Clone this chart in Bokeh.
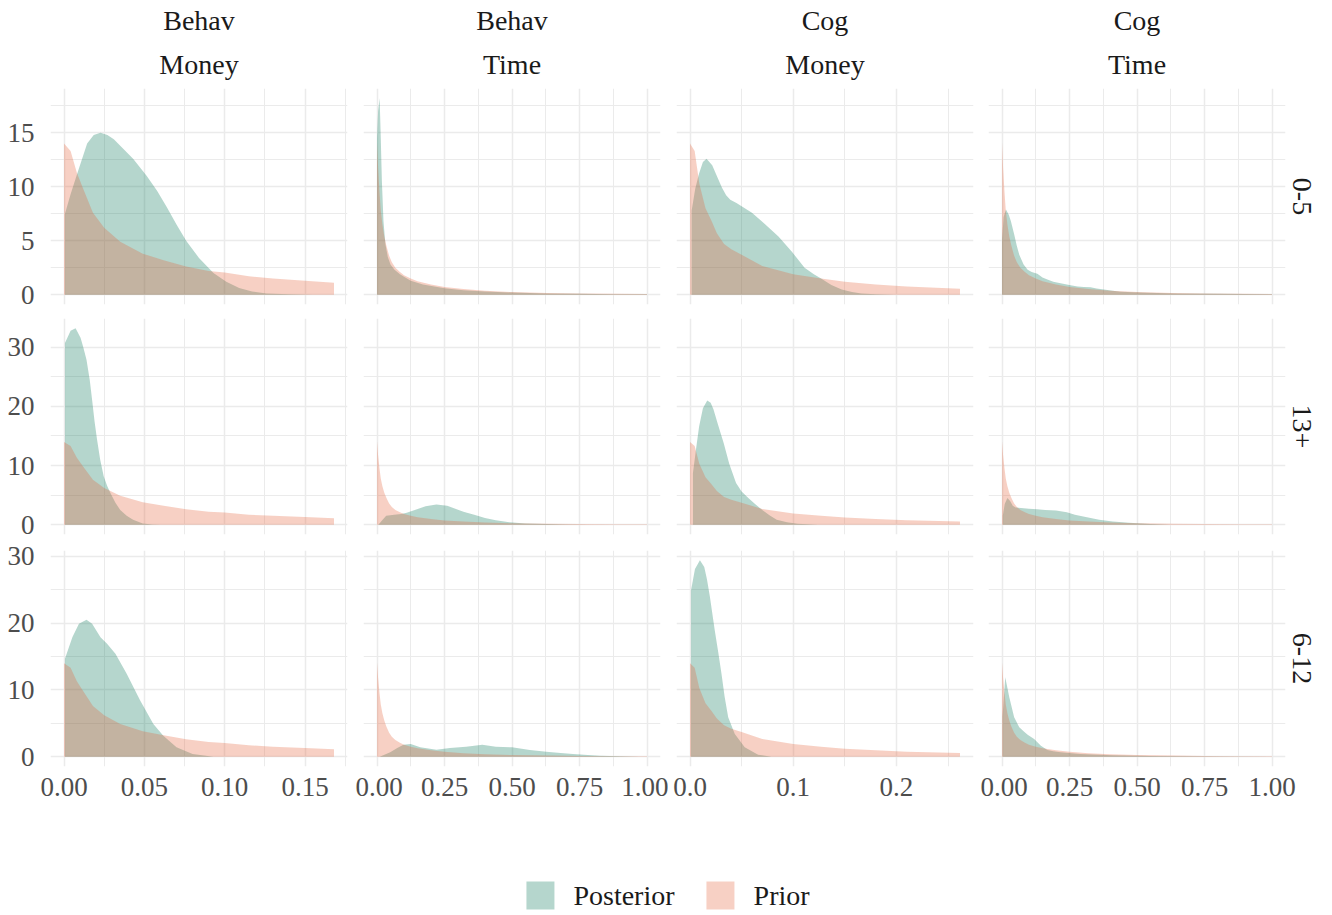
from bokeh.plotting import figure
from bokeh.layouts import gridplot, column
from bokeh.models import FixedTicker, Title, Legend, LegendItem
from bokeh.embed import file_html
from bokeh.resources import INLINE

# ---------------- data ----------------
col_top = ["Behav", "Behav", "Cog", "Cog"]
col_bottom = ["Money", "Time", "Money", "Time"]
row_labels = ["0-5", "13+", "6-12"]
series_labels = ["Posterior", "Prior"]

# priors (shared across age groups)
prior_bm_x = [0, 0.0041, 0.008, 0.012, 0.018, 0.025, 0.035, 0.049, 0.062, 0.076, 0.09, 0.1, 0.115, 0.13, 0.15, 0.168]
prior_bm_y = [14.0, 13.3, 11.3, 9.8, 7.6, 6.2, 4.9, 3.8, 3.2, 2.6, 2.2, 2.05, 1.7, 1.5, 1.3, 1.1]

prior_cm_x = [0, 0.0045, 0.009, 0.015, 0.021, 0.026, 0.033, 0.04, 0.05, 0.07, 0.1, 0.127, 0.15, 0.18, 0.21, 0.2616]
prior_cm_y = [14.0, 13.3, 10.3, 8.0, 6.8, 5.7, 4.7, 4.2, 3.7, 2.65, 1.9, 1.5, 1.2, 0.95, 0.75, 0.55]

prior_t_x = [0, 0.004, 0.009, 0.014, 0.02, 0.027, 0.035, 0.045, 0.055, 0.068, 0.085, 0.1, 0.125, 0.15,
             0.2, 0.25, 0.32, 0.4, 0.5, 0.63, 0.75, 0.88, 1.0]
prior_t_y = [14.1, 11.8, 9.6, 7.8, 6.5, 5.4, 4.5, 3.6, 3.0, 2.5, 2.1, 1.8, 1.5, 1.25,
             0.95, 0.72, 0.52, 0.36, 0.24, 0.16, 0.11, 0.08, 0.06]

# posteriors: age 0-5
post_bm_05_x = [0.0006, 0.0041, 0.0082, 0.0144, 0.0185, 0.0227, 0.027, 0.031, 0.037, 0.043, 0.0515, 0.058,
                0.064, 0.07, 0.076, 0.084, 0.093, 0.101, 0.109, 0.117, 0.126, 0.14, 0.155]
post_bm_05_y = [7.5, 9.3, 11.2, 14.0, 14.8, 15.0, 14.8, 14.4, 13.5, 12.6, 11.0, 9.6,
                8.1, 6.5, 5.0, 3.4, 2.0, 1.2, 0.62, 0.3, 0.1, 0.03, 0.0]
post_bt_05_x = [0, 0.004, 0.0098, 0.014, 0.018, 0.024, 0.031, 0.04, 0.05, 0.065, 0.085, 0.1, 0.125, 0.17,
                0.25, 0.32, 0.4, 0.5, 0.63, 0.75, 0.88, 1.0]
post_bt_05_y = [14.5, 17.0, 18.2, 14.5, 10.6, 6.8, 4.7, 3.5, 2.8, 2.3, 1.9, 1.65, 1.3, 0.95,
                0.6, 0.42, 0.3, 0.2, 0.12, 0.08, 0.05, 0.03]
post_cm_05_x = [0.0016, 0.005, 0.0087, 0.0125, 0.016, 0.0215, 0.026, 0.031, 0.035, 0.039, 0.045, 0.05, 0.06,
                0.073, 0.0857, 0.0985, 0.111, 0.12, 0.127, 0.137, 0.147, 0.157, 0.166, 0.18, 0.198]
post_cm_05_y = [7.8, 9.8, 11.2, 12.3, 12.6, 12.0, 11.0, 9.9, 9.2, 8.8, 8.5, 8.2, 7.6,
                6.5, 5.4, 4.0, 2.5, 1.9, 1.5, 0.9, 0.47, 0.25, 0.12, 0.04, 0.0]
post_ct_05_x = [0, 0.006, 0.0147, 0.025, 0.033, 0.045, 0.055, 0.064, 0.08, 0.095, 0.11, 0.131, 0.15, 0.168,
                0.19, 0.217, 0.254, 0.28, 0.303, 0.328, 0.35, 0.377, 0.41, 0.44, 0.537, 0.65, 0.8, 1.0]
post_ct_05_y = [5.0, 7.2, 7.9, 7.4, 6.8, 5.6, 4.5, 3.7, 2.8, 2.3, 2.1, 1.93, 1.6, 1.4,
                1.2, 1.05, 0.87, 0.75, 0.7, 0.68, 0.58, 0.47, 0.36, 0.28, 0.19, 0.12, 0.08, 0.05]

# posteriors: age 13+
post_bm_13_x = [0.0006, 0.0041, 0.0072, 0.0103, 0.012, 0.014, 0.016, 0.0175, 0.019, 0.0206, 0.0225, 0.0247,
                0.0268, 0.0289, 0.032, 0.035, 0.039, 0.043, 0.049, 0.055, 0.06]
post_bm_13_y = [30.7, 32.8, 33.2, 31.6, 30.0, 27.9, 24.5, 21.1, 17.5, 14.3, 11.0, 8.2,
                6.6, 5.35, 3.7, 2.5, 1.5, 0.84, 0.2, 0.05, 0.0]
post_bt_13_x = [0.005, 0.02, 0.034, 0.064, 0.09, 0.11, 0.14, 0.18, 0.22, 0.26, 0.29, 0.32, 0.36, 0.4,
                0.44, 0.49, 0.55, 0.63, 0.7, 0.78]
post_bt_13_y = [0.0, 0.8, 1.5, 1.7, 1.8, 2.0, 2.5, 3.1, 3.4, 3.2, 2.7, 2.2, 1.7, 1.15,
                0.75, 0.4, 0.2, 0.1, 0.04, 0.0]
post_cm_13_x = [0.0028, 0.006, 0.0088, 0.0125, 0.0167, 0.02, 0.0227, 0.027, 0.0326, 0.038, 0.0446, 0.05,
                0.0565, 0.063, 0.07, 0.077, 0.084, 0.094, 0.104, 0.124]
post_cm_13_y = [8.7, 13.0, 16.6, 19.7, 21.0, 20.6, 19.5, 17.0, 13.8, 10.3, 7.05, 5.6,
                4.5, 3.5, 2.5, 1.6, 0.85, 0.4, 0.17, 0.0]
post_ct_13_x = [0.003, 0.01, 0.02, 0.03, 0.04, 0.05, 0.07, 0.1, 0.13, 0.16, 0.2, 0.24, 0.27, 0.31,
                0.36, 0.41, 0.47, 0.55, 0.62]
post_ct_13_y = [1.5, 3.5, 4.5, 4.0, 3.2, 2.9, 2.8, 2.7, 2.6, 2.5, 2.4, 2.1, 1.7, 1.3,
                0.85, 0.55, 0.34, 0.12, 0.0]

# posteriors: age 6-12
post_bm_612_x = [0.0006, 0.0052, 0.0093, 0.014, 0.0175, 0.0227, 0.0268, 0.032, 0.039, 0.0474, 0.0556, 0.0618,
                 0.07, 0.08, 0.093]
post_bm_612_y = [14.65, 17.9, 19.9, 20.5, 19.9, 17.9, 16.9, 15.4, 12.4, 8.4, 4.9, 3.15,
                 1.4, 0.4, 0.0]
post_bt_612_x = [0.01, 0.049, 0.075, 0.098, 0.125, 0.16, 0.22, 0.27, 0.33, 0.39, 0.44, 0.5, 0.566, 0.627,
                 0.68, 0.726, 0.78, 0.824, 0.9, 0.97]
post_bt_612_y = [0.0, 0.65, 1.3, 1.8, 1.9, 1.4, 1.05, 1.3, 1.5, 1.8, 1.5, 1.4, 1.0, 0.75,
                 0.55, 0.4, 0.25, 0.15, 0.05, 0.0]
post_cm_612_x = [0.001, 0.0048, 0.0096, 0.0138, 0.0165, 0.0193, 0.024, 0.0275, 0.0305, 0.0335, 0.037, 0.0434,
                 0.053, 0.066, 0.079]
post_cm_612_y = [24.9, 28.1, 29.4, 28.4, 26.5, 23.9, 18.9, 15.5, 12.4, 9.0, 5.9, 3.4,
                 1.4, 0.3, 0.0]
post_ct_612_x = [0.002, 0.012, 0.027, 0.045, 0.064, 0.08, 0.095, 0.119, 0.144, 0.168, 0.19, 0.217, 0.29,
                 0.41, 0.55, 0.66, 0.8, 1.0]
post_ct_612_y = [6.0, 11.9, 8.9, 5.9, 4.4, 3.8, 3.3, 2.65, 1.65, 1.0, 0.8, 0.65, 0.4,
                 0.2, 0.1, 0.05, 0.02, 0.0]

priors = [(prior_bm_x, prior_bm_y), (prior_t_x, prior_t_y), (prior_cm_x, prior_cm_y), (prior_t_x, prior_t_y)]
posteriors = [
    [(post_bm_05_x, post_bm_05_y), (post_bt_05_x, post_bt_05_y), (post_cm_05_x, post_cm_05_y), (post_ct_05_x, post_ct_05_y)],
    [(post_bm_13_x, post_bm_13_y), (post_bt_13_x, post_bt_13_y), (post_cm_13_x, post_cm_13_y), (post_ct_13_x, post_ct_13_y)],
    [(post_bm_612_x, post_bm_612_y), (post_bt_612_x, post_bt_612_y), (post_cm_612_x, post_cm_612_y), (post_ct_612_x, post_ct_612_y)],
]

x_major = [[0, 0.05, 0.1, 0.15], [0, 0.25, 0.5, 0.75, 1.0], [0, 0.1, 0.2], [0, 0.25, 0.5, 0.75, 1.0]]
x_minor = [[0.025, 0.075, 0.125, 0.175], [0.125, 0.375, 0.625, 0.875], [0.05, 0.15, 0.25], [0.125, 0.375, 0.625, 0.875]]
x_labels = [["0.00", "0.05", "0.10", "0.15"], ["0.00", "0.25", "0.50", "0.75", "1.00"],
            ["0.0", "0.1", "0.2"], ["0.00", "0.25", "0.50", "0.75", "1.00"]]
y_major = [[0, 5, 10, 15], [0, 10, 20, 30], [0, 10, 20, 30]]
y_minor = [[2.5, 7.5, 12.5, 17.5], [5, 15, 25], [5, 15, 25]]

# ---------------- style / layout ----------------
FONT = "Liberation Serif"
FS = "28px"
TICK_FS = "27px"
POST_COLOR = "#0a785a"
PRIOR_COLOR = "#e4643c"
ALPHA = 0.3
GRID = "#ebebeb"

x_ranges = [(-0.0084, 0.1764), (-0.05, 1.05), (-0.0131, 0.2747), (-0.05, 1.05)]
y_ranges = [(-0.91, 19.1), (-1.66, 34.86), (-1.47, 30.87)]

frame_w, frame_h = 297, 216
borders_lr = [(50, 8), (8, 8), (8, 7), (8, 47)]
borders_tb = [(88, 7), (7, 6), (10, 50)]

grid = []
for i in range(3):
    row = []
    for j in range(4):
        bl, br = borders_lr[j]
        bt, bb = borders_tb[i]
        p = figure(width=bl + frame_w + br, height=bt + frame_h + bb,
                   x_range=x_ranges[j], y_range=y_ranges[i],
                   toolbar_location=None, output_backend="svg",
                   min_border_left=bl, min_border_right=br,
                   min_border_top=bt, min_border_bottom=bb)
        p.outline_line_color = None
        p.background_fill_color = "white"
        p.border_fill_color = "white"

        px, py = posteriors[i][j]
        p.varea(x=px, y1=[0] * len(px), y2=py, fill_color=POST_COLOR, fill_alpha=ALPHA)
        qx, qy = priors[j]
        p.varea(x=qx, y1=[0] * len(qx), y2=qy, fill_color=PRIOR_COLOR, fill_alpha=ALPHA)

        xt = FixedTicker(ticks=x_major[j], minor_ticks=x_minor[j])
        yt = FixedTicker(ticks=y_major[i], minor_ticks=y_minor[i])
        p.xaxis.ticker = xt
        p.yaxis.ticker = yt
        p.xgrid.ticker = xt
        p.ygrid.ticker = yt
        for g in (p.xgrid, p.ygrid):
            g.grid_line_color = GRID
            g.grid_line_width = 1.5
            g.minor_grid_line_color = GRID
            g.minor_grid_line_width = 1.0

        for ax in (p.xaxis, p.yaxis):
            ax.major_tick_line_color = None
            ax.minor_tick_line_color = None
            ax.axis_line_color = None
            ax.major_label_text_font = FONT
            ax.major_label_text_font_size = TICK_FS
            ax.major_label_text_color = "#4d4d4d"
        p.xaxis.major_label_overrides = {v: s for v, s in zip(x_major[j], x_labels[j])}
        p.xaxis.major_label_standoff = 5
        p.yaxis.major_label_standoff = 10
        p.xaxis.visible = (i == 2)
        p.yaxis.visible = (j == 0)

        if i == 0:
            p.add_layout(Title(text=col_bottom[j], align="center", text_font=FONT, text_font_size=FS,
                               text_font_style="normal", text_color="#1a1a1a", standoff=17), "above")
            p.add_layout(Title(text=col_top[j], align="center", text_font=FONT, text_font_size=FS,
                               text_font_style="normal", text_color="#1a1a1a", standoff=5), "above")
        if j == 3:
            p.add_layout(Title(text=row_labels[i], align="center", text_font=FONT, text_font_size=FS,
                               text_font_style="normal", text_color="#1a1a1a", standoff=14), "right")
        row.append(p)
    grid.append(row)

gp = gridplot(grid, toolbar_location=None)

# legend strip: the key glyphs reuse a panel's series, with the view placed away from the data
lf = figure(width=1332, height=99, x_range=(2, 3), y_range=(100, 101), toolbar_location=None,
            output_backend="svg", min_border_top=59, min_border_bottom=0,
            min_border_left=0, min_border_right=0)
lf.axis.visible = False
lf.grid.visible = False
lf.outline_line_color = None
r_post = lf.varea(x=post_bm_05_x, y1=[0] * len(post_bm_05_x), y2=post_bm_05_y,
                  fill_color=POST_COLOR, fill_alpha=ALPHA)
r_prior = lf.varea(x=prior_bm_x, y1=[0] * len(prior_bm_x), y2=prior_bm_y,
                   fill_color=PRIOR_COLOR, fill_alpha=ALPHA)
legend = Legend(items=[LegendItem(label=series_labels[0], renderers=[r_post]),
                       LegendItem(label=series_labels[1], renderers=[r_prior])],
                orientation="horizontal", location="center",
                glyph_width=35, glyph_height=35, label_height=35, label_standoff=16, spacing=28,
                padding=0, margin=0, border_line_color=None, background_fill_alpha=0,
                label_text_font=FONT, label_text_font_size=FS, label_text_color="#1a1a1a")
lf.add_layout(legend, "center")

layout = column(gp, lf)
open("out.html", "w").write(file_html(layout, INLINE))
